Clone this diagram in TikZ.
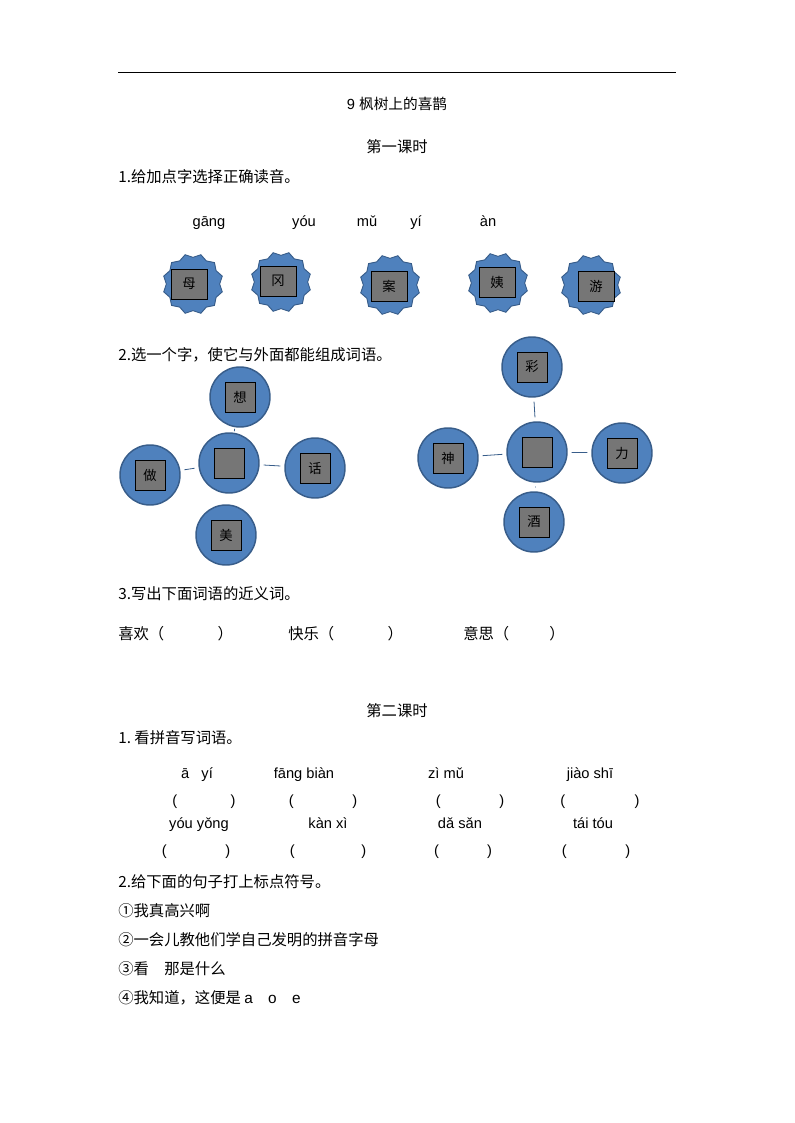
\documentclass[tikz,border=0pt]{standalone}
\usepackage{fontspec}
\setmainfont{Liberation Sans}
\newfontfamily\cjk{Noto Sans CJK SC}
\usetikzlibrary{shapes.geometric}
\definecolor{cblue}{HTML}{4F81BD}
\definecolor{cedge}{HTML}{385D8A}
\definecolor{cgray}{HTML}{767676}
\tikzset{
 bub/.style={circle,draw=cedge,line width=1.1pt,fill=cblue,minimum size=45pt,inner sep=0pt},
 sq/.style={draw=black,fill=cgray,minimum width=22.5pt,minimum height=22.5pt,inner sep=0pt,font=\cjk\fontsize{10}{10}\selectfont},
 strs/.style={star,star points=12,star point ratio=0.88,draw=cedge,line width=0.7pt,fill=cblue,minimum size=40pt,inner sep=0pt},
 sbox/.style={draw=black,fill=cgray,minimum width=27pt,minimum height=22.5pt,inner sep=0pt,font=\cjk\fontsize{10}{10}\selectfont},
 txt/.style={anchor=west,inner sep=0pt,font=\cjk\fontsize{11.5}{11.5}\selectfont},
 py/.style={inner sep=0pt,font=\fontsize{11}{11}\selectfont,text height=8pt,text depth=2pt},
 lnk/.style={draw=cedge,line width=0.6pt,shorten >=3pt,shorten <=3pt}
}
\begin{document}
\begin{tikzpicture}[x=0.75pt,y=-0.75pt]
\useasboundingbox (0,0) rectangle (794,1123);
\draw[line width=0.6pt] (118,72) -- (676,72);
\node[py] (t1) at (397,106) {9 {\cjk 枫树上的喜鹊}};
\node[py,font=\cjk\fontsize{11.5}{11.5}\selectfont] (t2) at (397,149) {第一课时};
\node[txt] (q1) at (118,177) {1.给加点字选择正确读音。};
\node[py] (p1) at (209,223) {gāng};
\node[py] (p2) at (304,223) {yóu};
\node[py] (p3) at (367,223) {mǔ};
\node[py] (p4) at (416,223) {yí};
\node[py] (p5) at (488,223) {àn};
\foreach \n/\x/\y/\bx/\by/\c in {a/193/284/189/284/母,b/281/282/278/281/冈,c/390/285/389/286/案,d/498/283/497/282/姨,e/591/285/596/286/游}{
 \node[strs] (s\n) at (\x,\y) {};
 \node[sbox] (b\n) at (\bx,\by) {\c};
}
\node[txt] (q2) at (118,355) {2.选一个字，使它与外面都能组成词语。};
% left cluster
\node[bub] (lc) at (229,463) {}; \node[sq] at (lc) {};
\node[bub] (lt) at (240,397) {}; \node[sq] at (lt) {想};
\node[bub] (ll) at (150,475) {}; \node[sq] at (ll) {做};
\node[bub] (lr) at (315,468) {}; \node[sq] at (lr) {话};
\node[bub] (lb) at (226,535) {}; \node[sq] at (lb) {美};
\draw[lnk] (lc) -- (lt); \draw[lnk] (lc) -- (ll); \draw[lnk] (lc) -- (lr);
% right cluster
\node[bub] (rc) at (537,452) {}; \node[sq] at (rc) {};
\node[bub] (rt) at (532,367) {}; \node[sq] at (rt) {彩};
\node[bub] (rl) at (448,458) {}; \node[sq] at (rl) {神};
\node[bub] (rr) at (622,453) {}; \node[sq] at (rr) {力};
\node[bub] (rb) at (534,522) {}; \node[sq] at (rb) {酒};
\draw[lnk] (rc) -- (rt);
\draw[lnk] (rc) -- (rl); \draw[lnk] (rc) -- (rr); \draw[lnk] (rc) -- (rb);
\node[txt] (q3) at (118,594) {3.写出下面词语的近义词。};
\node[txt] (w1) at (118,634) {喜欢（\hspace{40pt}）};
\node[txt] (w2) at (288,634) {快乐（\hspace{40pt}）};
\node[txt] (w3) at (463,634) {意思（\hspace{30pt}）};
\node[py,font=\cjk\fontsize{11.5}{11.5}\selectfont] (t3) at (397,712) {第二课时};
\node[txt] (q4) at (118,738) {1.\ 看拼音写词语。};
\foreach \x/\s in {197/ā\ \ \ yí,304/fāng biàn,446/zì mǔ,590/jiào shī}{\node[py] at (\x,774) {\s};}
\foreach \x/\w in {204/40,323/44,470/44,600/52}{\node[py] at (\x,801) {(\hspace{\w pt})};}
\foreach \x/\s in {199/yóu yǒng,328/kàn xì,460/dǎ sǎn,593/tái tóu}{\node[py] at (\x,824) {\s};}
\foreach \x/\w in {196/44,328/50,463/36,596/44}{\node[py] at (\x,851) {(\hspace{\w pt})};}
\node[txt] (q5) at (118,882) {2.给下面的句子打上标点符号。};
\node[txt] (l1) at (118,911) {①我真高兴啊};
\node[txt] (l2) at (118,940) {②一会儿教他们学自己发明的拼音字母};
\node[txt] (l3) at (118,969) {③看\quad 那是什么};
\node[txt] (l4) at (118,998) {④我知道，这便是 {\fontspec{Liberation Sans}a\quad o\quad e}};
\end{tikzpicture}
\end{document}
